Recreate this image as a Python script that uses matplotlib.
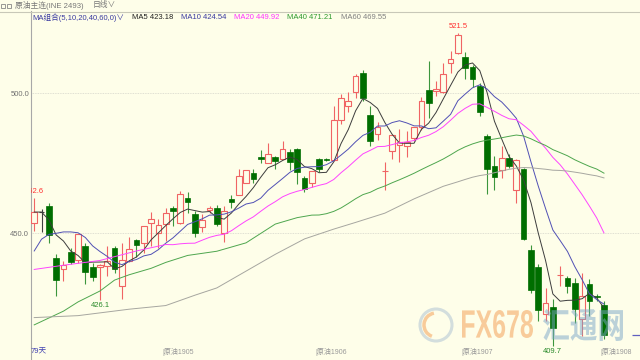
import numpy as np
import pandas as pd
import matplotlib
matplotlib.use("Agg")
import matplotlib.pyplot as plt
from matplotlib.lines import Line2D
from matplotlib.patches import PathPatch, Rectangle, Circle, Arc
from matplotlib.textpath import TextPath
from matplotlib.font_manager import FontProperties
from matplotlib.transforms import Affine2D, IdentityTransform, blended_transform_factory

plt.rcParams['font.family'] = ['Liberation Sans', 'Noto Sans CJK SC', 'DejaVu Sans']

# daily candles (79 days)
opens = [453.8, 457.6, 459.7, 441.3, 437.1, 443.3, 440.6, 445.4, 438.1, 438.1,
         438.3, 444.9, 431.2, 440.1, 447.6, 446.7, 453.6, 450.2, 453.2, 459.0,
         453.8, 462.7, 457.0, 452.4, 458.3, 459.2, 450.2, 462.1, 463.8, 468.1,
         471.7, 477.4, 475.2, 477.1, 476.4, 479.0, 480.0, 469.9, 468.1, 476.4,
         476.4, 476.2, 490.5, 495.6, 500.4, 507.1, 492.4, 485.5, 472.1, 479.3,
         481.7, 481.3, 484.0, 487.9, 501.2, 500.9, 500.4, 510.7, 514.3, 513.1,
         509.3, 502.7, 484.9, 474.1, 472.6, 477.0, 465.5, 472.9, 444.0, 438.1,
         421.1, 423.8, 435.0, 434.2, 432.1, 419.3, 431.8, 427.5, 424.3]
highs = [462.6, 458.6, 460.7, 442.5, 440.1, 444.9, 449.6, 446.4, 439.3, 439.0,
         445.4, 445.5, 446.5, 448.6, 448.1, 452.6, 457.5, 455.0, 459.2, 459.7,
         465.1, 464.6, 458.0, 456.8, 459.7, 460.0, 459.7, 463.6, 472.9, 472.6,
         472.9, 479.7, 482.1, 477.6, 483.1, 480.0, 480.6, 470.5, 472.2, 476.8,
         477.0, 495.5, 499.6, 500.4, 506.9, 508.3, 495.6, 489.6, 475.4, 485.2,
         487.2, 486.7, 488.1, 498.6, 511.7, 504.5, 510.7, 515.2, 521.5, 514.6,
         510.2, 503.6, 485.5, 477.5, 481.2, 478.2, 476.7, 473.5, 445.7, 438.9,
         430.6, 426.4, 438.3, 434.7, 434.2, 436.0, 433.8, 428.5, 425.8]
lows = [450.8, 450.4, 446.4, 427.6, 433.0, 438.9, 439.5, 431.8, 433.0, 426.1,
        434.8, 436.0, 426.5, 439.6, 441.7, 443.1, 445.5, 444.9, 447.2, 452.6,
        453.2, 457.1, 448.8, 450.5, 457.1, 452.6, 446.9, 459.2, 463.6, 468.0,
        467.9, 475.0, 475.2, 472.9, 476.4, 472.5, 467.5, 464.9, 466.7, 472.0,
        475.8, 476.0, 489.0, 493.2, 498.3, 497.4, 481.3, 483.3, 465.5, 476.5,
        475.4, 477.1, 482.9, 487.0, 491.2, 499.2, 500.0, 507.1, 514.0, 505.1,
        502.1, 492.0, 464.0, 465.3, 469.9, 473.5, 461.0, 447.6, 428.8, 418.7,
        418.7, 409.7, 431.2, 428.8, 418.1, 413.3, 420.5, 426.0, 412.1]
closes = [457.6, 457.6, 449.3, 433.2, 438.6, 439.7, 449.6, 436.2, 434.5, 438.7,
          440.1, 437.1, 440.4, 444.5, 445.7, 452.6, 455.2, 452.9, 457.4, 457.9,
          463.9, 461.2, 450.2, 454.7, 458.9, 453.5, 458.0, 461.2, 470.5, 472.6,
          469.3, 476.4, 478.3, 475.8, 480.2, 475.5, 471.9, 465.7, 472.2, 472.9,
          476.2, 490.4, 498.5, 497.4, 506.3, 498.3, 483.1, 487.9, 472.3, 485.2,
          482.7, 482.5, 488.1, 497.1, 496.4, 501.5, 506.9, 512.2, 521.0, 509.0,
          505.1, 493.2, 473.0, 470.0, 477.0, 474.0, 476.2, 448.1, 429.7, 422.6,
          425.0, 416.3, 435.2, 431.2, 422.9, 427.6, 425.8, 427.1, 413.6]

# moving-average values before the window is full (earlier history is off-screen)
ma10_head = [443.7, 447.9, 449.6, 450.0, 450.5, 450.5, 450.2, 448.5, 445.5]
ma20_head_idx = [0, 4, 9, 14, 18]
ma20_head = [437.1, 438.6, 440.3, 443.7, 446.0]
ma40_head_idx = [0, 4, 6, 9, 11, 13, 16, 18, 21, 25, 29, 33, 36, 38]
ma40_head = [417.3, 422.2, 425.5, 429.4, 433.3, 435.2, 437.5, 439.6, 442.1,
             443.6, 446.6, 453.3, 455.6, 456.5]
ma60_head_idx = [0, 6, 13, 18, 22, 25, 29, 33, 37, 41, 44, 48, 52, 56, 58]
ma60_head = [419.9, 420.6, 422.9, 424.2, 427.9, 430.5, 436.5, 442.5, 448.0,
             451.5, 453.9, 457.2, 462.3, 466.8, 468.4]

legend_labels = ['MA5 423.18', 'MA10 424.54', 'MA20 449.92', 'MA40 471.21', 'MA60 469.55']
month_labels = ['原油1905', '原油1906', '原油1907', '原油1908']
month_start = [18, 39, 59, 78]
high_marks = [0, 58]
low_marks = [9, 71]
day_count = '79天'

BG = '#fefee9'
RED = '#f06464'
GREEN = '#006e00'
GWICK = '#3c963c'
W, H = 640, 360
BW = 0.78

o = np.array(opens); h = np.array(highs); l = np.array(lows); c = np.array(closes)
x = np.arange(len(c))
up = c > o
dn = c < o
flat = c == o

fig = plt.figure(figsize=(6.4, 3.6), dpi=100, facecolor=BG)
ax = fig.add_axes([31 / W, 1 - 347 / H, (W - 31) / W, 336 / H], facecolor=BG)

# candles
ax.vlines(x[up], l[up], h[up], color=RED, lw=0.8, zorder=2)
ax.vlines(x[dn], l[dn], h[dn], color=GWICK, lw=0.8, zorder=2)
ax.vlines(x[flat], l[flat], h[flat], color='#404040', lw=0.8, zorder=2)
ax.bar(x[up], (c - o)[up], bottom=o[up], width=BW, facecolor=BG,
       edgecolor=RED, lw=0.8, zorder=3)
ax.bar(x[dn], (o - c)[dn], bottom=c[dn], width=BW, color=GREEN,
       edgecolor=GREEN, lw=0.5, zorder=3)
ax.hlines(o[flat], x[flat] - BW / 2, x[flat] + BW / 2, color='#404040', lw=0.8, zorder=3)

# moving averages
s = pd.Series(c)
ma5 = s.rolling(5, min_periods=1).mean()
ma10 = s.rolling(10).mean().to_numpy()
ma10[:9] = ma10_head
ax.plot(x, ma5, color='#3c3c3c', lw=0.7, zorder=4)
ax.plot(x, ma10, color='#5050b4', lw=0.7, zorder=4)
for win, hidx, hval, col in [(20, ma20_head_idx, ma20_head, '#ff44ff'),
                             (40, ma40_head_idx, ma40_head, '#4ea64e'),
                             (60, ma60_head_idx, ma60_head, '#a6a6a0')]:
    tail = s.rolling(win).mean().to_numpy()[win - 1:]
    xs = list(hidx) + list(range(win - 1, len(c)))
    ys = list(hval) + list(tail)
    ax.plot(xs, ys, color=col, lw=0.7, zorder=4)

# last price marker on right edge
ax.hlines(c[-1], 81.9, 83.2, color='#6060c0', lw=0.9, zorder=4)

ax.set_xlim(-0.44, (W - 34.2) / 7.305)
ax.set_ylim(409.4, 529.4)
ax.set_xticks([])
ax.set_yticks([450, 500], labels=['450.0', '500.0'])
ax.tick_params(axis='y', length=0, pad=1.3, labelsize=5.5, labelcolor='#707070')
ax.grid(axis='y', color='#d6d6cc', lw=0.6, ls=(0, (1, 1)), zorder=0)
for sp in ['top', 'right', 'bottom']:
    ax.spines[sp].set_visible(False)
ax.spines['left'].set_color('#a8a8a8')
ax.spines['left'].set_linewidth(0.8)

# high / low price labels
for i in high_marks:
    ax.annotate(f'{h[i]:.1f}', (i, h[i]), xytext=(0, 6.5), textcoords='offset pixels',
                ha='center', va='center', fontsize=5.5, color='#ff3030', clip_on=True)
for i in low_marks:
    ax.annotate(f'{l[i]:.1f}', (i, l[i]), xytext=(0, -5.5), textcoords='offset pixels',
                ha='center', va='center', fontsize=5.5, color='#2a8a2a')

# month separators along the bottom
tb = blended_transform_factory(ax.transData, ax.transAxes)
for lab, ms in zip(month_labels, month_start):
    ax.text(ms - 0.5, -5.5 / 336, '|' + lab, transform=tb, ha='left', va='center',
            fontsize=5, color='#999999')
fig.text(31 / W, 1 - 352.5 / H, day_count, fontsize=5.5, color='#4040b0', va='center')

# frame lines
fig.add_artist(Line2D([0, 1], [1 - 11.5 / H] * 2, color='#c8c8b8', lw=0.8,
                      transform=fig.transFigure))
fig.add_artist(Line2D([31 / W] * 2, [0, 1 - 347 / H], color='#a8a8a8', lw=0.8,
                      transform=fig.transFigure))

# title bar
for rx in [1, 7]:
    fig.add_artist(Rectangle((rx / W, 1 - 8 / H), 4 / W, 4 / H, fill=False,
                             ec='#888888', lw=0.6, transform=fig.transFigure))
fig.text(15 / W, 1 - 5.5 / H, '原油主连(INE 2493)', fontsize=5.6, color='#777777', va='center')
fig.text(93 / W, 1 - 5.5 / H, '日线∨', fontsize=5.6, color='#777777', va='center')

# MA legend row
fig.text(32.7 / W, 1 - 17.5 / H, 'MA组合(5,10,20,40,60,0)∨', fontsize=5.5,
         color='#3a3aa0', va='center')
leg_x = [131.7, 181, 234.3, 287.3, 340.7]
leg_c = ['#202020', '#3a3aa0', '#ff33ff', '#2e9a2e', '#808080']
for lab, lx, lc in zip(legend_labels, leg_x, leg_c):
    fig.text(lx / W, 1 - 17.5 / H, lab, fontsize=5.5, color=lc, va='center')


# watermark
def stamp(text, x0, x1, y0, y1, color, alpha, family):
    tp = TextPath((0, 0), text, size=10, prop=FontProperties(family=family, weight='bold'))
    bb = tp.get_extents()
    tr = (Affine2D().translate(-bb.x0, -bb.y0)
          .scale((x1 - x0) / bb.width, (y1 - y0) / bb.height)
          .translate(x0, H - y1))
    fig.add_artist(PathPatch(tr.transform_path(tp), fc=color, ec='none', alpha=alpha,
                             transform=IdentityTransform(), zorder=5))


stamp('FX678', 462, 533, 310, 338, '#f39a4c', 0.5, 'Liberation Sans')
stamp('汇通网', 543, 623, 309, 341, '#7aa6c8', 0.5, 'Noto Sans CJK SC')
fig.add_artist(Circle((436, H - 325), 16, fill=False, ec='#9fb8cf', lw=2.2, alpha=0.45,
                      transform=IdentityTransform(), zorder=5))
fig.add_artist(Arc((436, H - 325), 24, 24, theta1=100, theta2=250, ec='#f39a4c', lw=2.5,
                   alpha=0.5, transform=IdentityTransform(), zorder=5))

fig.savefig('out.png', dpi=100, facecolor=BG)
